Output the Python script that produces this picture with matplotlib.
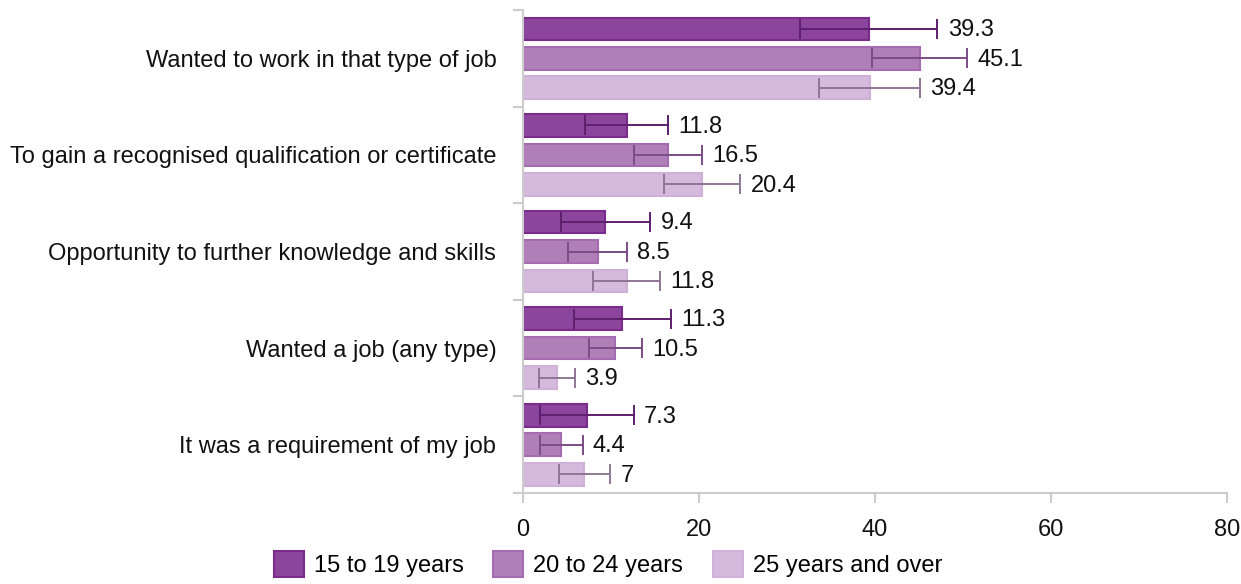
import numpy as np
import matplotlib
matplotlib.use("Agg")
import matplotlib.pyplot as plt

plt.rcParams['font.family'] = ['Liberation Sans', 'DejaVu Sans']

# Reasons for taking up the training, by age group
categories = [
    "Wanted to work in that type of job",
    "To gain a recognised qualification or certificate",
    "Opportunity to further knowledge and skills",
    "Wanted a job (any type)",
    "It was a requirement of my job",
]
series_names = ["15 to 19 years", "20 to 24 years", "25 years and over"]

age_15_19 = [39.3, 11.8, 9.4, 11.3, 7.3]
age_20_24 = [45.1, 16.5, 8.5, 10.5, 4.4]
age_25_over = [39.4, 20.4, 11.8, 3.9, 7.0]

# confidence interval half-widths
err_15_19 = [7.8, 4.7, 5.1, 5.5, 5.3]
err_20_24 = [5.4, 3.9, 3.3, 3.0, 2.4]
err_25_over = [5.7, 4.3, 3.8, 2.0, 2.9]

values = [age_15_19, age_20_24, age_25_over]
errors = [err_15_19, err_20_24, err_25_over]
fills = ["#8c459c", "#b07fba", "#d5badd"]
edges = ["#7a2b8c", "#a46bb0", "#cfb0d8"]
err_colors = ["#5e1f6c", "#7b4c86", "#8d7795"]

FS = 17

fig = plt.figure(figsize=(12.41, 5.84), dpi=100)
ax = fig.add_axes([0.4212, 0.1558, 0.5675, 0.827])

y = np.arange(len(categories))
offsets = [-0.305, 0.0, 0.305]
bar_h = 0.235

for vals, errs, off, fc, ec, erc, name in zip(values, errors, offsets, fills, edges, err_colors, series_names):
    ax.barh(y + off, vals, height=bar_h, color=fc, edgecolor=ec, linewidth=1.5, label=name, zorder=2)
    ax.errorbar(vals, y + off, xerr=errs, fmt='none', ecolor=erc, elinewidth=1.4,
                capsize=7.5, capthick=1.4, zorder=3)
    for v, e, yy in zip(vals, errs, y + off):
        ax.annotate(f"{v:g}", xy=(v + e, yy), xytext=(7.5, -1), textcoords='offset points',
                    va='center', ha='left', fontsize=FS, color='#111111')

ax.set_xlim(0, 80)
ax.set_ylim(len(categories) - 0.5, -0.5)
ax.set_xticks([0, 20, 40, 60, 80])

# category labels sit between the group separator ticks
ax.set_yticks(np.arange(len(categories) + 1) - 0.5)
ax.set_yticklabels([])
ax.set_yticks(y, minor=True)
ax.set_yticklabels(categories, minor=True)
ax.tick_params(axis='y', which='major', length=7, color='#cccccc', width=1.5)
ax.tick_params(axis='y', which='minor', length=0, pad=19, labelsize=FS, labelcolor='#111111')
ax.tick_params(axis='x', length=7, color='#cccccc', width=1.5, pad=12, labelsize=FS, labelcolor='#111111')

for side in ['top', 'right']:
    ax.spines[side].set_visible(False)
for side in ['left', 'bottom']:
    ax.spines[side].set_color('#cccccc')
    ax.spines[side].set_linewidth(1.5)

handles, labels = ax.get_legend_handles_labels()
fig.legend(handles, labels, loc='center', bbox_to_anchor=(0.49, 0.034), ncol=3,
           frameon=False, fontsize=FS, handlelength=1.27, handleheight=1.36,
           handletextpad=0.42, columnspacing=1.27, borderaxespad=0, borderpad=0)

fig.savefig("out.png", dpi=100)
